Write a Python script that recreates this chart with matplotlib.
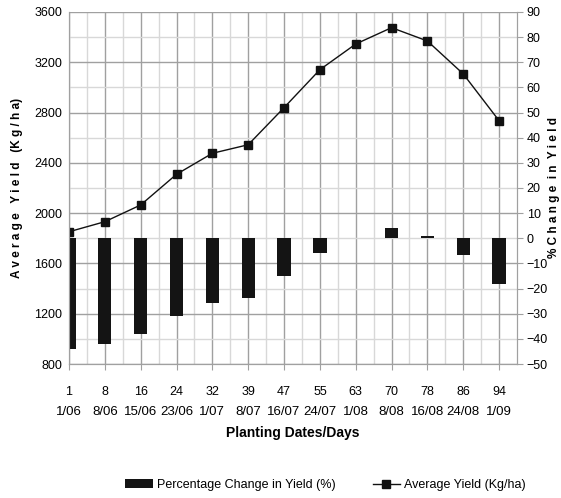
import matplotlib
matplotlib.use('Agg')
import matplotlib.pyplot as plt
from matplotlib.ticker import MultipleLocator
import numpy as np

plt.rcParams['font.family'] = ['Liberation Sans Narrow', 'Liberation Sans', 'DejaVu Sans']

# data
days = ['1', '8', '16', '24', '32', '39', '47', '55', '63', '70', '78', '86', '94']
dates = ['1/06', '8/06', '15/06', '23/06', '1/07', '8/07', '16/07', '24/07',
         '1/08', '8/08', '16/08', '24/08', '1/09']
avg_yield = [1852, 1932, 2065, 2309, 2476, 2544, 2839, 3141, 3345, 3475, 3369, 3107, 2735]
pct_change = [-44, -42, -38, -31, -25.7, -23.7, -15, -6, 0, 4, 0.8, -6.7, -18]

x = np.arange(len(days))

fig = plt.figure(figsize=(5.61, 4.98), dpi=100)
ax = fig.add_axes([0.123, 0.269, 0.7986, 0.707])
ax2 = ax.twinx()

# grid
ax.set_xlim(0, 12.5)
ax.set_ylim(800, 3600)
ax.yaxis.set_major_locator(MultipleLocator(400))
ax.yaxis.set_minor_locator(MultipleLocator(200))
ax.set_xticks(x)
ax.set_xticks(x[:-1] + 0.5, minor=True)
ax.grid(True, which='major', color='#a0a0a0', lw=1.0)
ax.grid(True, which='minor', color='#d8d8d8', lw=1.0)
ax.set_axisbelow(True)

ax.plot(x, avg_yield, color='#111111', lw=1.0, marker='s', ms=6,
        markerfacecolor='#111111', zorder=3, label='Average Yield (Kg/ha)')

bars = ax2.bar(x, pct_change, width=0.37, color='#141414', zorder=2,
               label='Percentage Change in Yield (%)')
ax2.set_ylim(-50, 90)
ax2.yaxis.set_major_locator(MultipleLocator(10))

for a in (ax, ax2):
    for s in a.spines.values():
        s.set_color('#a0a0a0')
    a.spines['top'].set_visible(False)

ax.tick_params(axis='y', which='both', length=0, labelsize=9, pad=5)
ax.tick_params(axis='x', which='major', length=4, color='#a0a0a0', labelsize=9, pad=12)
ax.tick_params(axis='x', which='minor', length=0)
ax2.tick_params(axis='y', length=4, color='#a0a0a0', labelsize=9, pad=3)
ax.set_xticklabels(days)

for xi, d in zip(x, dates):
    ax.text(xi, -0.135, d, transform=ax.get_xaxis_transform(), ha='center', va='center',
            fontsize=9.5)

ax.text(0.5, -0.197, 'Planting Dates/Days', transform=ax.transAxes, ha='center',
        va='center', fontsize=10, fontweight='bold', family=['Liberation Sans', 'DejaVu Sans'])

ax.set_ylabel('A v e r a g e   Y i e l d   (K g / h a)', fontsize=8.5, fontweight='bold',
              family=['Liberation Sans', 'DejaVu Sans'], labelpad=8)
ax2.set_ylabel('% C h a n g e  i n  Y i e l d', fontsize=8.5, fontweight='bold',
               family=['Liberation Sans', 'DejaVu Sans'])
ax2.yaxis.set_label_coords(1.07, 0.5)

h1, l1 = ax2.get_legend_handles_labels()
h2, l2 = ax.get_legend_handles_labels()
fig.legend(h1 + h2, l1 + l2, loc='center', bbox_to_anchor=(0.58, 0.026), ncol=2,
           frameon=False, fontsize=9, handlelength=2.2, columnspacing=3.0,
           handletextpad=0.3)

fig.savefig('out.png', dpi=100)
